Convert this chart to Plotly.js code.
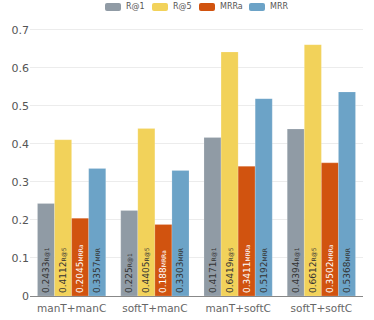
<!DOCTYPE html>
<html>
<head>
<meta charset="utf-8">
<script src="https://cdn.plot.ly/plotly-3.0.1.min.js"></script>
<style>
  body { margin: 0; padding: 0; background: #fff; }
  #chart { width: 374px; height: 320px; }
</style>
</head>
<body>
<div id="chart"></div>
<script>
const categories = ["manT+manC", "softT+manC", "manT+softC", "softT+softC"];
const seriesNames = ["R@1", "R@5", "MRRa", "MRR"];
const r1 = [0.2433, 0.225, 0.4171, 0.4394];
const r5 = [0.4112, 0.4405, 0.6419, 0.6612];
const mrra = [0.2045, 0.188, 0.3411, 0.3502];
const mrr = [0.3357, 0.3303, 0.5192, 0.5368];
const seriesColors = ["#909ba5", "#f2d25a", "#d1530f", "#6ca3c7"];
const textColors = ["#333333", "#333333", "#ffffff", "#333333"];

const allValues = [r1, r5, mrra, mrr];

// plot area in pixels (for the hand-made legend)
const plotL = 30, plotR = 363, plotT = 28, plotB = 296;
const legendSwatchX = [113, 160, 207, 257];
const legendY = 7;

function px2paperX(px) { return (px - plotL) / (plotR - plotL); }
function px2paperY(py) { return (plotB - py) / (plotB - plotT); }

var data = allValues.map((vals, i) => ({
    type: 'bar',
    name: seriesNames[i],
    x: categories,
    y: vals,
    text: vals.map(v => v + '<span style="font-size:6px">' + seriesNames[i] + '</span>'),
    textposition: 'inside',
    insidetextanchor: 'start',
    textangle: -90,
    textfont: { family: 'DejaVu Sans', size: 9, color: textColors[i] },
    marker: { color: seriesColors[i], line: { color: 'rgba(255,255,255,0.35)', width: 0.5 } },
    hoverinfo: 'none',
    showlegend: false
}));

var roundRect = "M-6,-4 L6,-4 Q8,-4 8,-2 L8,2 Q8,4 6,4 L-6,4 Q-8,4 -8,2 L-8,-2 Q-8,-4 -6,-4 Z";

var legendShapes = seriesNames.map((n, i) => ({
    type: 'path',
    xref: 'paper', yref: 'paper',
    xsizemode: 'pixel', ysizemode: 'pixel',
    xanchor: px2paperX(legendSwatchX[i]),
    yanchor: px2paperY(legendY),
    path: roundRect,
    fillcolor: seriesColors[i],
    line: { width: 0 }
}));

var legendLabels = seriesNames.map((n, i) => ({
    xref: 'paper', yref: 'paper',
    x: px2paperX(legendSwatchX[i] + 11),
    y: px2paperY(legendY),
    xanchor: 'left', yanchor: 'middle',
    text: n,
    showarrow: false,
    font: { family: 'DejaVu Sans', size: 8, color: '#555555' }
}));

var layout = {
    width: 374,
    height: 320,
    margin: { l: plotL, r: 374 - plotR, t: plotT, b: 320 - plotB, autoexpand: false },
    paper_bgcolor: '#ffffff',
    plot_bgcolor: '#ffffff',
    font: { family: 'DejaVu Sans', size: 10, color: '#555555' },
    barmode: 'group',
    bargap: 0.18,
    bargroupgap: 0,
    showlegend: false,
    shapes: legendShapes,
    annotations: legendLabels,
    xaxis: {
        showgrid: false,
        tickfont: { size: 10.5, color: '#666666' },
        ticks: 'outside',
        ticklen: 2,
        tickcolor: 'rgba(0,0,0,0)',
        showline: false
    },
    yaxis: {
        range: [0, 0.705],
        dtick: 0.1,
        tickformat: '.1~f',
        gridcolor: '#ececec',
        zeroline: true,
        zerolinecolor: '#888888',
        zerolinewidth: 1,
        tickfont: { size: 11, color: '#555555' },
        ticks: ''
    }
};

Plotly.newPlot('chart', data, layout, { displayModeBar: false, staticPlot: true });
</script>
</body>
</html>
